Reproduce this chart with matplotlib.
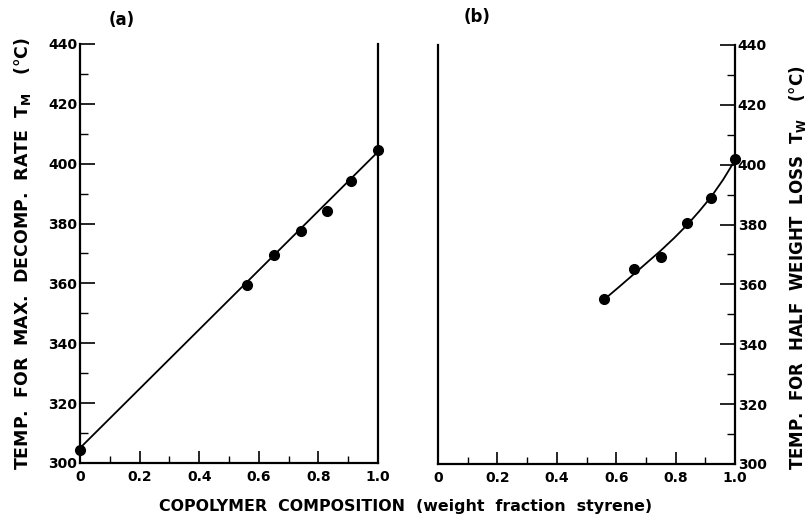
import matplotlib
matplotlib.use("Agg")
import matplotlib.pyplot as plt
from matplotlib.ticker import MultipleLocator

plt.rcParams['font.family'] = ['DejaVu Sans']
plt.rcParams['font.weight'] = 'bold'
plt.rcParams['mathtext.fontset'] = 'dejavusans'

# (a) temperature for max decomposition rate
comp_a = [0.0, 0.56, 0.65, 0.74, 0.83, 0.91, 1.0]
temp_a = [304.3, 359.5, 369.5, 377.6, 384.3, 394.3, 404.6]
fit_a_x = [0.0, 1.0]
fit_a_y = [305.0, 404.0]

# (b) temperature for half weight loss
comp_b = [0.56, 0.66, 0.75, 0.84, 0.92, 1.0]
temp_b = [355.1, 365.2, 369.3, 380.4, 389.0, 401.8]
curve_b_x = [0.56, 0.61, 0.66, 0.705, 0.75, 0.795, 0.84, 0.88, 0.92, 0.96, 1.0]
curve_b_y = [355.0, 359.2, 363.5, 367.4, 371.3, 375.5, 380.0, 384.5, 389.3, 395.0, 401.5]

xticks = [0, 0.2, 0.4, 0.6, 0.8, 1.0]
xticklabels = ["0", "0.2", "0.4", "0.6", "0.8", "1.0"]
yticks = [300, 320, 340, 360, 380, 400, 420, 440]

W, H = 807, 516
fig = plt.figure(figsize=(W / 100, H / 100), dpi=100)
fig.patch.set_facecolor("white")

ax1 = fig.add_axes([80 / W, 53 / H, 298 / W, 419 / H])
ax2 = fig.add_axes([438 / W, 52 / H, 297 / W, 419 / H])

for ax in (ax1, ax2):
    ax.set_xlim(0, 1.0)
    ax.set_ylim(300, 440)
    ax.spines['top'].set_visible(False)
    for s in ('left', 'right', 'bottom'):
        ax.spines[s].set_linewidth(1.6)
    ax.set_xticks(xticks)
    ax.set_xticklabels(xticklabels)
    ax.xaxis.set_minor_locator(MultipleLocator(0.1))
    ax.yaxis.set_minor_locator(MultipleLocator(10))
    ax.tick_params(axis='x', which='major', direction='in', length=8.5, width=1.2,
                   labelsize=10, pad=5)
    ax.tick_params(axis='x', which='minor', direction='in', length=5, width=1.0)
    ax.set_yticks(yticks)

# left panel: ticks on left spine, plain right spine
ax1.tick_params(axis='y', which='major', direction='in', length=11, width=1.2,
                labelsize=10, pad=2, left=True, right=False)
ax1.tick_params(axis='y', which='minor', direction='in', length=6, width=1.0,
                left=True, right=False)
ax1.plot(fit_a_x, fit_a_y, color='black', lw=1.3, zorder=2)
ax1.plot(comp_a, temp_a, 'o', color='black', ms=7, clip_on=False, zorder=3)
ax1.set_ylabel("TEMP.  FOR  MAX.  DECOMP.  RATE  T$_{\\mathbf{M}}$   (\u00b0C)",
               fontsize=12.5, fontweight='bold')
ax1.yaxis.set_label_coords(-0.158, 0.50)

# right panel: ticks on right spine, plain left spine
ax2.yaxis.tick_right()
ax2.yaxis.set_label_position('right')
ax2.tick_params(axis='y', which='major', direction='in', length=11, width=1.2,
                labelsize=10, pad=2, left=False, right=True)
ax2.tick_params(axis='y', which='minor', direction='in', length=6, width=1.0,
                left=False, right=True)
ax2.plot(curve_b_x, curve_b_y, color='black', lw=1.3, zorder=2)
ax2.plot(comp_b, temp_b, 'o', color='black', ms=7, clip_on=False, zorder=3)
ax2.set_ylabel("TEMP.  FOR  HALF  WEIGHT  LOSS  T$_{\\mathbf{W}}$   (\u00b0C)",
               fontsize=12, fontweight='bold', rotation=90)
ax2.yaxis.set_label_coords(1.175, 0.468)

fig.text(122 / W, 1 - 20 / H, "(a)", fontsize=12, fontweight='bold', ha='center', va='center')
fig.text(477 / W, 1 - 17 / H, "(b)", fontsize=12, fontweight='bold', ha='center', va='center')
fig.text(406 / W, 1 - 506 / H,
         "COPOLYMER  COMPOSITION  (weight  fraction  styrene)",
         fontsize=11.4, fontweight='bold', ha='center', va='center')

fig.savefig("out.png", dpi=100, facecolor="white")
